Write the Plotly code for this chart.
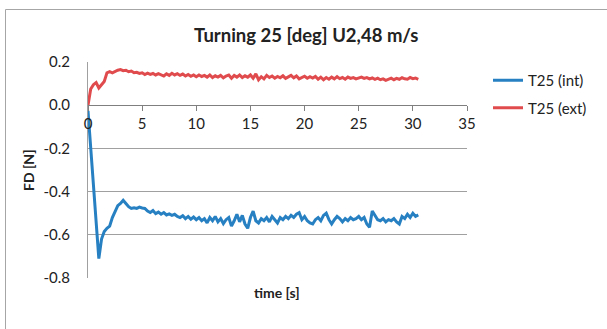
import plotly.graph_objects as go

time_s = [round(i * 0.25, 2) for i in range(123)]

fd_int = [
    -0.026, -0.20, -0.37, -0.54, -0.71, -0.62, -0.585, -0.57, -0.56, -0.52,
    -0.49, -0.465, -0.455, -0.44, -0.455, -0.47, -0.478, -0.475, -0.478, -0.472,
    -0.476, -0.478, -0.49, -0.497, -0.488, -0.502, -0.495, -0.505, -0.497, -0.508,
    -0.503, -0.51, -0.505, -0.515, -0.52, -0.512, -0.525, -0.515, -0.528, -0.518,
    -0.53, -0.52, -0.535, -0.525, -0.545, -0.52, -0.535, -0.515, -0.54, -0.525,
    -0.548, -0.53, -0.52, -0.56, -0.535, -0.505, -0.54, -0.51, -0.55, -0.57,
    -0.52, -0.49, -0.535, -0.545, -0.525, -0.535, -0.52, -0.54, -0.515, -0.53,
    -0.545, -0.52, -0.53, -0.515, -0.525, -0.51, -0.52, -0.505, -0.498, -0.53,
    -0.515, -0.535, -0.545, -0.55, -0.53, -0.52, -0.535, -0.51, -0.50, -0.53,
    -0.55, -0.53, -0.515, -0.525, -0.54, -0.525, -0.535, -0.52, -0.53, -0.525,
    -0.515, -0.53, -0.52, -0.55, -0.565, -0.49, -0.51, -0.53, -0.535, -0.525,
    -0.54, -0.53, -0.535, -0.525, -0.54, -0.55, -0.515, -0.525, -0.505, -0.52,
    -0.50, -0.515, -0.508,
]

fd_ext = [
    0.0, 0.075, 0.095, 0.105, 0.08, 0.098, 0.11, 0.15, 0.155, 0.15,
    0.158, 0.162, 0.165, 0.16, 0.162, 0.155, 0.158, 0.15, 0.152, 0.147,
    0.15, 0.142, 0.148, 0.143, 0.147, 0.14, 0.146, 0.142, 0.135, 0.145,
    0.138, 0.148, 0.14, 0.146, 0.138, 0.144, 0.135, 0.142, 0.134, 0.14,
    0.132, 0.14, 0.133, 0.138, 0.13, 0.14, 0.128, 0.136, 0.13, 0.138,
    0.127, 0.135, 0.14, 0.125, 0.138, 0.13, 0.14, 0.128, 0.136, 0.13,
    0.14, 0.125, 0.145, 0.118, 0.132, 0.122, 0.138, 0.128, 0.135, 0.125,
    0.133, 0.127, 0.136, 0.124, 0.13, 0.138, 0.127, 0.135, 0.122, 0.13,
    0.134, 0.125, 0.132, 0.126, 0.133, 0.12, 0.13, 0.118, 0.128, 0.12,
    0.13, 0.122, 0.132, 0.123, 0.128, 0.12, 0.13, 0.124, 0.128, 0.122,
    0.126, 0.13, 0.124, 0.128, 0.122, 0.126, 0.12, 0.125, 0.118, 0.122,
    0.115, 0.12, 0.125, 0.118, 0.124, 0.12, 0.127, 0.122, 0.12, 0.128,
    0.123, 0.126, 0.12,
]

series_names = ["T25 (int)", "T25 (ext)"]
y_ticks = [0.2, 0.0, -0.2, -0.4, -0.6, -0.8]
y_tick_text = ["0.2", "0.0", "-0.2", "-0.4", "-0.6", "-0.8"]
x_ticks = [0, 5, 10, 15, 20, 25, 30, 35]

FONT = "Lato"
BLUE = "#2680C2"
RED = "#E04B4E"

fig = go.Figure()
fig.add_trace(go.Scatter(x=time_s, y=fd_int, mode="lines", name=series_names[0],
                         legendgroup="a", line=dict(color=BLUE, width=3)))
fig.add_trace(go.Scatter(x=time_s, y=fd_ext, mode="lines", name=series_names[1],
                         legendgroup="b", line=dict(color=RED, width=3)))

# plot area in px: left 88, right 467, top 62, bottom 278
L, R, T, B = 88, 467, 62, 278
W, H = 607, 329
pw, ph = R - L, B - T

def px_x(x):
    return (x - L) / pw

def px_y(y):
    return (B - y) / ph

fig.update_layout(
    width=W, height=H,
    margin=dict(l=L, r=W - R, t=T, b=H - B),
    paper_bgcolor="white", plot_bgcolor="white",
    font=dict(family=FONT, size=13, color="#222222"),
    showlegend=True,
    legend=dict(x=px_x(488), y=px_y(64), xanchor="left", yanchor="top",
                font=dict(family=FONT, size=15, color="#222222"),
                traceorder="grouped", tracegroupgap=5, itemwidth=30,
                bgcolor="rgba(0,0,0,0)"),
    xaxis=dict(range=[0, 35], tickvals=x_ticks, anchor="free", position=0.8,
               showline=True, linecolor="#7F7F7F", linewidth=1,
               ticks="outside", ticklen=5, tickcolor="#7F7F7F",
               showgrid=False, zeroline=False,
               tickfont=dict(family=FONT, size=15, color="#222222")),
    yaxis=dict(range=[-0.8, 0.2], domain=[0, 1], tickvals=y_ticks, ticktext=y_tick_text,
               showline=True, linecolor="#A0A0A0", linewidth=1,
               showgrid=True, gridcolor="#A0A0A0", gridwidth=1,
               zeroline=False, ticks="", ticklabelstandoff=14,
               tickfont=dict(family=FONT, size=15, color="#222222")),
    shapes=[dict(type="rect", xref="paper", yref="paper",
                 x0=px_x(5.5), x1=px_x(620), y0=px_y(9.5), y1=px_y(340),
                 line=dict(color="#A6A6A6", width=1), fillcolor="rgba(0,0,0,0)", layer="below")],
    annotations=[
        dict(text="<b>Turning 25 [deg] U2,48 m/s</b>", xref="paper", yref="paper",
             x=px_x(306), y=px_y(35), xanchor="center", yanchor="middle", showarrow=False,
             font=dict(family=FONT, size=18.5, color="#222222")),
        dict(text="<b>FD [N]</b>", xref="paper", yref="paper", textangle=-90,
             x=px_x(28), y=px_y(170), xanchor="center", yanchor="middle", showarrow=False,
             font=dict(family=FONT, size=14, color="#222222")),
        dict(text="<b>time [s]</b>", xref="paper", yref="paper",
             x=px_x(277), y=px_y(292), xanchor="center", yanchor="middle", showarrow=False,
             font=dict(family=FONT, size=14, color="#222222")),
    ],
)

fig.write_html("out.html")
